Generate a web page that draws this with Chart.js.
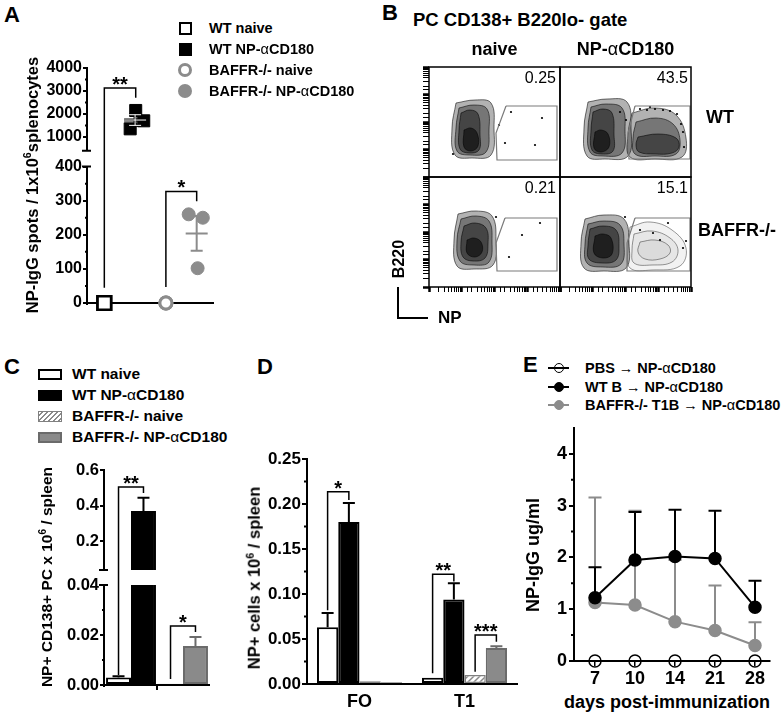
<!DOCTYPE html>
<html>
<head>
<meta charset="utf-8">
<script src="https://cdn.jsdelivr.net/npm/chart.js@4.4.1/dist/chart.umd.min.js"></script>
<style>
html, body { margin: 0; padding: 0; background: #fff; }
#fig { position: relative; width: 781px; height: 715px; overflow: hidden; font-family: "Liberation Sans", Arial, sans-serif; font-weight: bold; color: #000; }
#fig canvas { position: absolute; }
.t { position: absolute; white-space: nowrap; line-height: 1; }
.g { font-weight: normal; }
sup { font-size: 65%; line-height: 0; vertical-align: 0.6em; }
</style>
</head>
<body>
<div id="fig"></div>
<script>
// ---------- data ----------

// A: NP-IgG ELISPOT
const groupsA = ['WT naive', 'WT NP-αCD180', 'BAFFR-/- naive', 'BAFFR-/- NP-αCD180'];
const posA = [1, 2, 3, 4];
const wtNaiveA = [0, 0, 0];
const wtNpA = [2150, 1700, 1350];
const wtNpXA = [2.02, 2.28, 1.84];
const koNaiveA = [0, 0, 0];
const koNpA = [260, 250, 102];
const koNpXA = [3.74, 4.2, 4.03];
const meanA = [0, 1733, 0, 204];
const semA = [0, 232, 0, 51];
const ticksA = [0, 100, 200, 300, 400, 1000, 2000, 3000, 4000];
const minorA = [50, 150, 250, 350, 1500, 2500, 3500];

// B: flow plots (channel units inside each 131 x 110 box)
const rowsB = ['WT', 'BAFFR-/-'];
const colsB = ['naive', 'NP-αCD180'];
const pctB = ['0.25', '43.5', '0.21', '15.1'];
const gateTL = [[77, 71], [67, 44], [68, 17], [128, 17], [128, 71]];
const gateTR = [[75, 71], [68, 44], [69, 18], [130, 18], [130, 71]];
const gateBL = [[76, 69], [67, 44], [68, 16], [128, 16], [128, 69]];
const gateBR = [[75, 69], [67, 44], [67, 16], [130, 16], [130, 69]];
const negTL = [
  [[27, 74], [46, 77], [62, 74], [65, 49], [62, 22], [43, 19], [26, 22], [23, 49]],
  [[30, 69], [45, 72], [58, 68], [60, 47], [57, 25], [41, 22], [28, 26], [27, 49]],
  [[32, 64], [41, 67], [49, 63], [51, 42], [50, 27], [40, 24], [31, 28], [30, 47]],
  [[35, 47], [42, 49], [48, 44], [49, 31], [42, 26], [35, 30]]
];
const negTR = [
  [[28, 75], [47, 78], [67, 75], [71, 49], [68, 21], [45, 18], [27, 21], [24, 49]],
  [[31, 70], [46, 73], [62, 69], [65, 47], [62, 24], [43, 21], [30, 25], [28, 49]],
  [[33, 65], [43, 68], [52, 64], [54, 42], [53, 26], [42, 23], [32, 27], [31, 47]],
  [[35, 45], [41, 47], [48, 43], [49, 30], [41, 25], [34, 29]]
];
const posTR = [
  [[72, 64], [95, 69], [116, 62], [126, 39], [122, 20], [95, 18], [70, 20], [68, 42]],
  [[76, 55], [96, 59], [113, 53], [120, 37], [116, 23], [95, 21], [75, 23], [73, 39]],
  [[78, 40], [98, 43], [116, 39], [119, 30], [112, 24], [95, 23], [79, 25], [76, 32]]
];
const negBL = [
  [[29, 73], [47, 76], [63, 71], [67, 47], [64, 22], [45, 18], [28, 21], [25, 47]],
  [[32, 68], [47, 71], [60, 66], [63, 46], [60, 25], [45, 22], [31, 26], [28, 47]],
  [[35, 61], [46, 64], [57, 59], [59, 43], [56, 29], [44, 26], [34, 30], [32, 45]],
  [[38, 47], [45, 49], [52, 45], [53, 35], [46, 30], [38, 34]]
];
const negBR = [
  [[25, 68], [44, 72], [64, 68], [69, 44], [66, 19], [44, 16], [24, 19], [21, 44]],
  [[28, 63], [44, 66], [60, 62], [64, 43], [61, 23], [43, 20], [27, 24], [25, 43]],
  [[30, 58], [43, 61], [56, 57], [59, 41], [56, 27], [42, 24], [29, 28], [28, 42]],
  [[35, 51], [43, 53], [51, 49], [52, 33], [43, 29], [34, 34]]
];
const posBR = [
  [[70, 60], [90, 65], [112, 57], [126, 39], [120, 21], [92, 17], [70, 19], [68, 39]],
  [[74, 53], [92, 56], [110, 49], [118, 37], [112, 25], [92, 22], [74, 24], [72, 37]],
  [[80, 45], [95, 47], [108, 42], [110, 34], [100, 28], [85, 28], [78, 35]]
];
const dotsTL = [[82, 65], [76, 34], [113, 59], [106, 32], [24, 23], [70, 52]];
const dotsTR = [[87, 67], [95, 68], [103, 67], [110, 66], [117, 63], [90, 70], [123, 45], [121, 53], [124, 30], [60, 65], [66, 57], [80, 68]];
const dotsBL = [[67, 70], [111, 64], [93, 52], [80, 30]];
const dotsBR = [[93, 54], [108, 64], [123, 39], [80, 57], [100, 47], [126, 46], [65, 70]];

// C: NP+ CD138+ PC
const groupsC = ['WT', 'BAFFR-/-'];
const naiveC = [0.003, 0.0005];
const naiveErrC = [0.0005, 0];
const npC = [0.37, 0.0156];
const npErrC = [0.075, 0.0036];
const ticksC = [0, 0.02, 0.04, 0.2, 0.4, 0.6];
const tickLabelsC = ['0.00', '0.02', '0.04', '0.2', '0.4', '0.6'];
const minorC = [0.01, 0.03];

// D: NP+ cells in FO / T1
const catsD = ['FO', 'T1'];
const wtNaiveD = [0.063, 0.007];
const wtNaiveErrD = [0.016, 0];
const wtNpD = [0.18, 0.094];
const wtNpErrD = [0.021, 0.018];
const koNaiveD = [0.003, 0.01];
const koNaiveErrD = [0, 0];
const koNpD = [0.002, 0.04];
const koNpErrD = [0, 0.002];
const ticksD = [0, 0.05, 0.1, 0.15, 0.2, 0.25];
const minorD = [0.025, 0.075, 0.125, 0.175, 0.225];

// E: serum NP-IgG
const namesE = ['PBS → NP-αCD180', 'WT B → NP-αCD180', 'BAFFR-/- T1B → NP-αCD180'];
const daysE = ['7', '10', '14', '21', '28'];
const pbsE = [0, 0, 0, 0, 0];
const wtE = [1.22, 1.95, 2.02, 1.98, 1.04];
const wtErrE = [0.59, 0.93, 0.90, 0.92, 0.51];
const koE = [1.13, 1.08, 0.76, 0.59, 0.30];
const koErrE = [2.03, 1.82, 1.19, 0.87, 0.45];
const ticksE = [0, 1, 2, 3, 4];
const minorE = [0.5, 1.5, 2.5, 3.5];

// ---------- setup ----------
const FONT = '"Liberation Sans", Arial, sans-serif';
const GRAY = '#8c8c8c';
const BARGRAY = '#8a8a8a';
const BAREDGE = '#6b6b6b';
const fig = document.getElementById('fig');

Chart.defaults.font.family = FONT;
Chart.defaults.font.weight = 'bold';
Chart.defaults.color = '#000';
Chart.defaults.animation = false;
Chart.defaults.responsive = false;
Chart.defaults.events = [];
Chart.defaults.plugins.legend.display = false;
Chart.defaults.plugins.tooltip.enabled = false;

// linear axis with a break: piecewise segments [v0, v1, frac0, frac1]
const BREAKS = {};
class BrokenScale extends Chart.LinearScale {
  buildTicks() {
    return BREAKS[this.chart.canvas.id].ticks.map(v => ({ value: v }));
  }
  getPixelForValue(v) {
    const segs = BREAKS[this.chart.canvas.id].segs;
    let s = segs[0];
    for (let i = 1; i < segs.length; i++) if (v > segs[i][0]) s = segs[i];
    const f = s[2] + (v - s[0]) / (s[1] - s[0]) * (s[3] - s[2]);
    return this.bottom - f * (this.bottom - this.top);
  }
  getValueForPixel(p) {
    const segs = BREAKS[this.chart.canvas.id].segs;
    const f = (this.bottom - p) / (this.bottom - this.top);
    let s = segs[0];
    for (let i = 1; i < segs.length; i++) if (f > segs[i][2]) s = segs[i];
    return s[0] + (f - s[2]) / (s[3] - s[2]) * (s[1] - s[0]);
  }
}
BrokenScale.id = 'broken';
BrokenScale.defaults = Chart.LinearScale.defaults;
Chart.register(BrokenScale);

function mkCanvas(id, left, top, w, h) {
  const c = document.createElement('canvas');
  c.id = id;
  c.width = w;
  c.height = h;
  c.style.left = left + 'px';
  c.style.top = top + 'px';
  c.style.width = w + 'px';
  c.style.height = h + 'px';
  fig.appendChild(c);
  return c;
}

const fmt = s => s.replace(/([α→])/g, '<span class="g">$1</span>');

function txt(html, x, y, o = {}) {
  const d = document.createElement('div');
  d.className = 't';
  d.innerHTML = html;
  d.style.fontSize = (o.size || 16) + 'px';
  if (o.normal) d.style.fontWeight = 'normal';
  d.style.left = x + 'px';
  d.style.top = y + 'px';
  const ax = o.align === 'c' ? '-50%' : o.align === 'r' ? '-100%' : '0';
  d.style.transform = 'translate(' + ax + ', -50%)' + (o.rot ? ' rotate(-90deg)' : '');
  fig.appendChild(d);
}

function mark(cx, cy, w, h, css) {
  const d = document.createElement('div');
  d.style.cssText = 'position:absolute;box-sizing:border-box;left:' + (cx - w / 2) + 'px;top:' + (cy - h / 2) +
    'px;width:' + w + 'px;height:' + h + 'px;' + css;
  fig.appendChild(d);
}

function makeHatch() {
  const p = document.createElement('canvas');
  p.width = 6; p.height = 6;
  const g = p.getContext('2d');
  g.fillStyle = '#fff';
  g.fillRect(0, 0, 6, 6);
  g.strokeStyle = '#8a8a8a';
  g.lineWidth = 1.5;
  g.beginPath();
  g.moveTo(0, 6); g.lineTo(6, 0);
  g.moveTo(-1, 1); g.lineTo(1, -1);
  g.moveTo(5, 7); g.lineTo(7, 5);
  g.stroke();
  return g.createPattern(p, 'repeat');
}
const HATCH = makeHatch();

// drawing helpers used by the per-chart plugins
function bracket(ctx, x1, x2, top, yl, yr, label) {
  ctx.strokeStyle = '#000';
  ctx.lineWidth = 1.5;
  ctx.beginPath();
  ctx.moveTo(x1, yl); ctx.lineTo(x1, top); ctx.lineTo(x2, top); ctx.lineTo(x2, yr);
  ctx.stroke();
  ctx.fillStyle = '#000';
  ctx.font = 'bold 20px ' + FONT;
  ctx.textAlign = 'center';
  ctx.textBaseline = 'alphabetic';
  ctx.fillText(label, (x1 + x2) / 2, top + 3);
}

function errUp(ctx, x, y0, y1, color, cap) {
  ctx.strokeStyle = color;
  ctx.lineWidth = 2;
  ctx.beginPath();
  ctx.moveTo(x, y0); ctx.lineTo(x, y1);
  ctx.moveTo(x - cap, y1); ctx.lineTo(x + cap, y1);
  ctx.stroke();
}

function minorTicks(ctx, chart, vals) {
  const a = chart.chartArea, y = chart.scales.y;
  ctx.strokeStyle = '#000';
  ctx.lineWidth = 2;
  ctx.beginPath();
  vals.forEach(v => {
    const p = y.getPixelForValue(v);
    ctx.moveTo(a.left - 3, p); ctx.lineTo(a.left, p);
  });
  ctx.stroke();
}

function brokenAxis(ctx, chart, band) {
  const a = chart.chartArea, seg = BREAKS[chart.canvas.id].segs;
  const h = a.bottom - a.top;
  const lo = a.bottom - seg[0][3] * h;
  const hi = a.bottom - seg[1][2] * h;
  if (band) {
    ctx.fillStyle = '#fff';
    ctx.fillRect(a.left + 1, hi, a.right - a.left, lo - hi);
  }
  const x = a.left - 1;
  ctx.strokeStyle = '#000';
  ctx.lineWidth = 2;
  ctx.beginPath();
  ctx.moveTo(x, a.bottom + 2); ctx.lineTo(x, lo);
  ctx.moveTo(x, hi); ctx.lineTo(x, a.top - 1);
  ctx.moveTo(x - 5, lo); ctx.lineTo(x + 4, lo);
  ctx.moveTo(x - 5, hi); ctx.lineTo(x + 4, hi);
  ctx.stroke();
}

function decor(after, before) {
  return {
    id: 'decor',
    beforeDatasetsDraw(chart) {
      if (!before) return;
      const ctx = chart.ctx;
      ctx.save(); before(chart, ctx); ctx.restore();
    },
    afterDatasetsDraw(chart) {
      if (!after) return;
      const ctx = chart.ctx;
      ctx.save(); after(chart, ctx); ctx.restore();
    }
  };
}

const yGrid = { drawOnChartArea: false, tickLength: 5, color: '#000', lineWidth: 2 };
const blackBorder = { display: true, color: '#000', width: 2 };

// ---------- A ----------
BREAKS.cA = { segs: [[0, 400, 0, 137 / 236], [400, 4000, 153 / 236, 1]], ticks: ticksA };
new Chart(mkCanvas('cA', 40, 55, 185, 260), {
  type: 'scatter',
  data: {
    datasets: [
      { label: groupsA[0], data: wtNaiveA.map(v => ({ x: posA[0], y: v })), pointStyle: 'rect', pointRadius: 9.5,
        pointBackgroundColor: '#fff', pointBorderColor: '#000', pointBorderWidth: 2.5, clip: false },
      { label: groupsA[1], data: wtNpA.map((v, i) => ({ x: wtNpXA[i], y: v })), pointStyle: 'rect', pointRadius: 8.5,
        pointBackgroundColor: '#000', pointBorderColor: '#000', pointBorderWidth: 1, clip: false },
      { label: groupsA[2], data: koNaiveA.map(v => ({ x: posA[2], y: v })), pointStyle: 'circle', pointRadius: 6,
        pointBackgroundColor: '#fff', pointBorderColor: GRAY, pointBorderWidth: 3, clip: false },
      { label: groupsA[3], data: koNpA.map((v, i) => ({ x: koNpXA[i], y: v })), pointStyle: 'circle', pointRadius: 6.5,
        pointBackgroundColor: GRAY, pointBorderColor: GRAY, pointBorderWidth: 1, clip: false }
    ]
  },
  options: {
    layout: { padding: { left: 0, top: 13, right: 7, bottom: 0 } },
    scales: {
      x: { type: 'linear', min: 0.47, max: 4.53, ticks: { display: false }, grid: { display: false },
        border: blackBorder, afterFit: s => { s.height = 11; } },
      y: { type: 'broken', min: 0, max: 4000, border: { display: false }, grid: yGrid,
        ticks: { font: { size: 16 }, padding: 1, autoSkip: false, callback: v => String(v) },
        afterFit: s => { s.width = 48; } }
    }
  },
  plugins: [decor((chart, ctx) => {
    const { x, y } = chart.scales;
    brokenAxis(ctx, chart, false);
    minorTicks(ctx, chart, minorA);
    meanA.forEach((m, i) => {
      if (!semA[i]) return;
      const px = x.getPixelForValue(posA[i]);
      const py = y.getPixelForValue(m);
      const top = y.getPixelForValue(m + semA[i]);
      const bot = y.getPixelForValue(m - semA[i]);
      const passes = i === 1 ? [['#000', 3], ['#fff', 1]] : [[GRAY, 2]];
      passes.forEach(([c, w]) => {
        ctx.strokeStyle = c;
        ctx.lineWidth = w;
        ctx.beginPath();
        ctx.moveTo(px - 11, py); ctx.lineTo(px + 11, py);
        ctx.moveTo(px, top); ctx.lineTo(px, bot);
        ctx.moveTo(px - 6, top); ctx.lineTo(px + 6, top);
        ctx.moveTo(px - 6, bot); ctx.lineTo(px + 6, bot);
        ctx.stroke();
      });
    });
    bracket(ctx, x.getPixelForValue(1), x.getPixelForValue(2.02), y.getPixelForValue(3130),
      y.getPixelForValue(45), y.getPixelForValue(2700), '**');
    bracket(ctx, x.getPixelForValue(3), x.getPixelForValue(4), y.getPixelForValue(327),
      y.getPixelForValue(47), y.getPixelForValue(298), '*');
  })]
});

// ---------- B ----------
const closeRing = r => r.concat([r[0]]).map(([x, y]) => ({ x, y }));
const RING_DARK = ['rgba(0,0,0,0.3)', 'rgba(0,0,0,0.34)', 'rgba(0,0,0,0.42)', 'rgba(0,0,0,0.55)'];

function facs(id, left, top, w, h, area, gate, rings, dots, lightRings, showLeft, showBottom) {
  const ds = [];
  ds.push({ type: 'line', data: closeRing(gate), borderColor: '#7a7a7a', borderWidth: 1.2, pointRadius: 0, fill: false, tension: 0 });
  ds.push({ type: 'scatter', data: dots.map(([x, y]) => ({ x, y })), pointRadius: 1.1, pointBackgroundColor: '#000', pointBorderWidth: 0 });
  rings.forEach((blob, bi) => {
    const light = lightRings[bi];
    blob.forEach((r, i) => {
      ds.push({ type: 'line', data: closeRing(r), pointRadius: 0, tension: 0.4, fill: 'shape',
        backgroundColor: light ? 'rgba(0,0,0,0.05)' : RING_DARK[i],
        borderColor: light ? 'rgba(0,0,0,0.4)' : 'rgba(0,0,0,0.55)', borderWidth: 1 });
    });
  });
  const logTicks = {
    type: 'logarithmic', min: 1, max: 10000,
    ticks: { display: false, autoSkip: false },
    border: { display: false },
    grid: { drawOnChartArea: false, color: '#000',
      tickWidth: ctx => (ctx.tick && Math.abs(Math.log10(ctx.tick.value) % 1) < 1e-6 ? 2.5 : 1) }
  };
  const scales = {
    x: { type: 'linear', min: 0, max: 131, display: false },
    y: { type: 'linear', min: 0, max: 110, display: false }
  };
  if (showLeft) scales.yt = Object.assign({}, logTicks, { position: 'left', grid: Object.assign({}, logTicks.grid, { tickLength: 6 }),
    afterFit: s => { s.width = area[0] - left; } });
  if (showBottom) scales.xt = Object.assign({}, logTicks, { position: 'bottom', grid: Object.assign({}, logTicks.grid, { tickLength: 5 }),
    afterFit: s => { s.height = top + h - area[3]; } });
  new Chart(mkCanvas(id, left, top, w, h), {
    type: 'scatter',
    data: { datasets: ds },
    options: {
      layout: { padding: {
        left: showLeft ? 0 : area[0] - left,
        top: area[1] - top,
        right: left + w - area[2],
        bottom: showBottom ? 0 : top + h - area[3] } },
      scales
    },
    plugins: [{
      id: 'frame',
      afterDraw(chart) {
        const a = chart.chartArea, ctx = chart.ctx;
        ctx.save();
        ctx.strokeStyle = '#000';
        ctx.lineWidth = 1.5;
        ctx.strokeRect(a.left, a.top, a.right - a.left, a.bottom - a.top);
        ctx.restore();
      }
    }]
  });
}
facs('bTL', 415, 60, 150, 122, [429, 67, 560, 177], gateTL, [negTL], dotsTL, [false], true, false);
facs('bTR', 555, 60, 141, 122, [560, 67, 691, 177], gateTR, [negTR, posTR], dotsTR, [false, false], false, false);
facs('bBL', 415, 172, 150, 125, [429, 177, 560, 287], gateBL, [negBL], dotsBL, [false], true, true);
facs('bBR', 555, 172, 141, 125, [560, 177, 691, 287], gateBR, [negBR, posBR], dotsBR, [false, true], false, true);

// ---------- C ----------
BREAKS.cC = { segs: [[0, 0.04, 0, 100 / 215], [0.04, 0.6, 115 / 215, 1]], ticks: ticksC };
const errC = [naiveErrC, npErrC];
const errColC = ['#000', BAREDGE];
new Chart(mkCanvas('cC', 55, 455, 160, 245), {
  type: 'bar',
  data: {
    labels: groupsC,
    datasets: [
      { label: 'naive', data: naiveC, backgroundColor: ['#fff', HATCH], borderColor: ['#000', '#808080'],
        borderWidth: [2, 1.5], borderSkipped: false, categoryPercentage: 0.96, barPercentage: 1 },
      { label: 'NP-αCD180', data: npC, backgroundColor: ['#000', BARGRAY], borderColor: ['#000', BAREDGE],
        borderWidth: 2, borderSkipped: false, categoryPercentage: 0.96, barPercentage: 1 }
    ]
  },
  options: {
    layout: { padding: { left: 0, top: 15, right: 6, bottom: 0 } },
    scales: {
      x: { ticks: { display: false },
        grid: { drawOnChartArea: false, offset: true, tickLength: 5, lineWidth: 2,
          color: ctx => (ctx.index === 1 ? '#000' : 'rgba(0,0,0,0)') },
        border: blackBorder, afterFit: s => { s.height = 15; } },
      y: { type: 'broken', min: 0, max: 0.6, border: { display: false }, grid: yGrid,
        ticks: { font: { size: 16.5 }, padding: 1, autoSkip: false, callback: v => tickLabelsC[ticksC.indexOf(v)] },
        afterFit: s => { s.width = 50; } }
    }
  },
  plugins: [decor((chart, ctx) => {
    const y = chart.scales.y;
    brokenAxis(ctx, chart, true);
    minorTicks(ctx, chart, minorC);
    const vals = [naiveC, npC];
    vals.forEach((arr, d) => {
      const meta = chart.getDatasetMeta(d);
      arr.forEach((v, i) => {
        if (!errC[d][i]) return;
        errUp(ctx, meta.data[i].x, y.getPixelForValue(v), y.getPixelForValue(v + errC[d][i]), errColC[i], 6);
      });
    });
    const bx = (d, i) => chart.getDatasetMeta(d).data[i].x;
    bracket(ctx, bx(0, 0), bx(1, 0), y.getPixelForValue(0.505), y.getPixelForValue(0.004), y.getPixelForValue(0.471), '**');
    bracket(ctx, bx(0, 1), bx(1, 1), y.getPixelForValue(0.0236), y.getPixelForValue(0.0024), y.getPixelForValue(0.0212), '*');
  })]
});

// ---------- D ----------
const valsD = [wtNaiveD, wtNpD, koNaiveD, koNpD];
const errD = [wtNaiveErrD, wtNpErrD, koNaiveErrD, koNpErrD];
const errColD = ['#000', '#000', '#808080', BAREDGE];
const barD = (data, bg, edge, bw) => ({ data, backgroundColor: bg, borderColor: edge, borderWidth: bw,
  borderSkipped: false, categoryPercentage: 0.81, barPercentage: 1 });
new Chart(mkCanvas('cD', 255, 445, 270, 270), {
  type: 'bar',
  data: {
    labels: catsD,
    datasets: [
      barD(wtNaiveD, '#fff', '#000', 2),
      barD(wtNpD, '#000', '#000', 2),
      barD(koNaiveD, HATCH, '#808080', 1.5),
      barD(koNpD, BARGRAY, BAREDGE, 2)
    ]
  },
  options: {
    layout: { padding: { left: 0, top: 14, right: 8, bottom: 0 } },
    scales: {
      x: { grid: { display: false, drawTicks: false }, border: blackBorder,
        ticks: { font: { size: 18 }, padding: 7 }, afterFit: s => { s.height = 31; } },
      y: { min: 0, max: 0.25, border: blackBorder, grid: yGrid,
        afterBuildTicks: s => { s.ticks = ticksD.map(v => ({ value: v })); },
        ticks: { font: { size: 17 }, padding: 1, autoSkip: false, callback: v => v.toFixed(2) },
        afterFit: s => { s.width = 52; } }
    }
  },
  plugins: [decor((chart, ctx) => {
    const y = chart.scales.y;
    minorTicks(ctx, chart, minorD);
    valsD.forEach((arr, d) => {
      const meta = chart.getDatasetMeta(d);
      arr.forEach((v, i) => {
        if (!errD[d][i]) return;
        errUp(ctx, meta.data[i].x, y.getPixelForValue(v), y.getPixelForValue(v + errD[d][i]), errColD[d], 6);
      });
    });
    const bx = (d, i) => chart.getDatasetMeta(d).data[i].x;
    bracket(ctx, bx(0, 0), bx(1, 0), y.getPixelForValue(0.2137), y.getPixelForValue(0.082), y.getPixelForValue(0.2044), '*');
    bracket(ctx, bx(0, 1), bx(1, 1), y.getPixelForValue(0.122), y.getPixelForValue(0.012), y.getPixelForValue(0.114), '**');
    bracket(ctx, bx(2, 1), bx(3, 1), y.getPixelForValue(0.0544), y.getPixelForValue(0.0137), y.getPixelForValue(0.047), '***');
  })]
});

// ---------- E ----------
const lineE = (label, vals, color, fill, lw) => ({
  label, data: vals.map((v, i) => ({ x: i, y: v })), showLine: true, borderColor: color, borderWidth: lw,
  pointStyle: 'circle', pointRadius: 6, pointBackgroundColor: fill, pointBorderColor: color,
  pointBorderWidth: 1.5, clip: false
});
new Chart(mkCanvas('cE', 540, 415, 241, 275), {
  type: 'scatter',
  data: {
    datasets: [
      lineE(namesE[0], pbsE, '#000', 'rgba(0,0,0,0)', 1.5),
      lineE(namesE[1], wtE, '#000', '#000', 2),
      lineE(namesE[2], koE, GRAY, GRAY, 2)
    ]
  },
  options: {
    layout: { padding: { left: 0, top: 13, right: 11, bottom: 0 } },
    scales: {
      x: { type: 'linear', min: -0.525, max: 4.375, border: blackBorder,
        grid: { drawOnChartArea: false, tickLength: 5, color: '#000', lineWidth: 1.5 },
        afterBuildTicks: s => { s.ticks = daysE.map((d, i) => ({ value: i })); },
        ticks: { font: { size: 18 }, padding: 2, autoSkip: false, maxRotation: 0, callback: v => daysE[v] },
        afterFit: s => { s.height = 29; } },
      y: { type: 'linear', min: 0, max: 4.5, border: blackBorder, grid: yGrid,
        afterBuildTicks: s => { s.ticks = ticksE.map(v => ({ value: v })); },
        ticks: { font: { size: 18 }, padding: 2, autoSkip: false, callback: v => String(v) },
        afterFit: s => { s.width = 34; } }
    }
  },
  plugins: [decor((chart, ctx) => {
    minorTicks(ctx, chart, minorE);
  }, (chart, ctx) => {
    const y = chart.scales.y;
    [[2, koE, koErrE, GRAY], [1, wtE, wtErrE, '#000']].forEach(([d, vals, errs, col]) => {
      const meta = chart.getDatasetMeta(d);
      vals.forEach((v, i) => {
        errUp(ctx, meta.data[i].x, y.getPixelForValue(v), y.getPixelForValue(v + errs[i]), col, 6.5);
      });
    });
  })]
});

// ---------- text, legends ----------
txt('A', 4, 15, { size: 22 });
txt('B', 382, 13, { size: 22 });
txt('C', 4, 367, { size: 22 });
txt('D', 257, 367, { size: 22 });
txt('E', 523, 365, { size: 22 });

// A legend + axis title
const rowsA = [28, 49, 70, 91];
const markA = [
  [13, 13, 'border:2.5px solid #000;background:#fff'],
  [13, 13, 'background:#000'],
  [14, 14, 'border:3px solid ' + GRAY + ';border-radius:50%;background:#fff'],
  [14, 14, 'background:' + GRAY + ';border-radius:50%']
];
groupsA.forEach((g, i) => {
  mark(185, rowsA[i], ...markA[i]);
  txt(fmt(g), 209, rowsA[i], { size: 14.5 });
});
txt('NP-IgG spots / 1x10<sup>6</sup>splenocytes', 32, 185, { size: 16.5, align: 'c', rot: true });

// B labels
txt('PC CD138+ B220lo- gate', 413, 20, { size: 18.5 });
txt(fmt(colsB[0]), 494.5, 49, { size: 18, align: 'c' });
txt(fmt(colsB[1]), 625.5, 49, { size: 18, align: 'c' });
const pctPos = [[556, 78], [688, 78], [556, 188], [688, 188]];
pctB.forEach((p, i) => txt(p, pctPos[i][0], pctPos[i][1], { size: 16, normal: true, align: 'r' }));
txt(rowsB[0], 706, 117, { size: 18 });
txt(rowsB[1], 698, 230, { size: 18 });
txt('B220', 398.5, 259, { size: 16, align: 'c', rot: true });
mark(398, 302.5, 2, 31, 'background:#000');
mark(412.5, 318, 31, 2, 'background:#000');
txt('NP', 438, 317, { size: 17 });

// C legend + axis title (shared by D)
const rowsC = [374, 395, 416, 437];
const markC = [
  'border:2px solid #000;background:#fff',
  'background:#000',
  'border:1.5px solid #808080;background:repeating-linear-gradient(135deg,#fff 0 2px,#8a8a8a 2px 3.5px)',
  'border:2px solid ' + BAREDGE + ';background:' + BARGRAY
];
groupsA.forEach((g, i) => {
  mark(50, rowsC[i], 24, 11, markC[i]);
  txt(fmt(g), 72, rowsC[i], { size: 15.5 });
});
txt('NP+ CD138+ PC x 10<sup>6</sup> / spleen', 47, 577, { size: 15.5, align: 'c', rot: true });
txt('NP+ cells x 10<sup>6</sup> / spleen', 254, 578, { size: 16.5, align: 'c', rot: true });

// E legend + axis titles
const rowsE = [368, 387, 405];
const styleE = [['#000', 1.5, 'transparent'], ['#000', 2, '#000'], [GRAY, 2, GRAY]];
namesE.forEach((n, i) => {
  const [col, lw, fill] = styleE[i];
  mark(558.5, rowsE[i], 21, lw, 'background:' + col);
  mark(558.5, rowsE[i], 10, 10, 'border-radius:50%;border:1.5px solid ' + col + ';background:' + fill);
  txt(fmt(n), 585, rowsE[i], { size: 14.5 });
});
txt('NP-IgG ug/ml', 533, 555, { size: 18, align: 'c', rot: true });
txt('days post-immunization', 667, 702, { size: 18, align: 'c' });
</script>
</body>
</html>
